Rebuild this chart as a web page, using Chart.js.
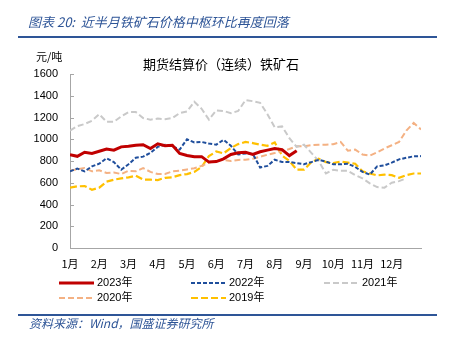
<!DOCTYPE html>
<html>
<head>
<meta charset="utf-8">
<script src="https://cdn.jsdelivr.net/npm/chart.js@4.4.0/dist/chart.umd.min.js"></script>
<style>
  html, body { margin:0; padding:0; background:#fff; }
  #wrap { position:relative; width:455px; height:342px; overflow:hidden; font-family:"Liberation Sans","Noto Sans CJK SC",sans-serif; }
  #c { position:absolute; left:0; top:0; }
  .abs { position:absolute; white-space:pre; line-height:1; }
  .rule { position:absolute; left:18px; width:419px; height:2px; background:#2E5597; }
  .hdr { color:#2E5597; font-style:italic; font-family:"Noto Sans CJK SC",sans-serif; }
  .leg { position:absolute; font-size:11px; color:#000; line-height:1; }
  .leg svg { position:absolute; left:0; top:0; }
  .leg span { position:absolute; white-space:pre; font-family:"Liberation Sans","Noto Sans CJK SC",sans-serif; }
</style>
</head>
<body>
<div id="wrap">
  <canvas id="c" width="455" height="342"></canvas>
  <div class="abs hdr" style="left:28px;top:15px;font-size:13px;">图表 20:  近半月铁矿石价格中枢环比再度回落</div>
  <div class="rule" style="top:36px;"></div>
  <div class="abs" style="left:36px;top:51px;font-size:11px;color:#000;font-family:'Noto Sans CJK SC',sans-serif;">元/吨</div>
  <div class="abs" style="left:143px;top:57px;font-size:13px;color:#000;font-family:'Noto Sans CJK SC',sans-serif;">期货结算价（连续）铁矿石</div>
  <div id="legend"></div>
  <div class="rule" style="top:314px;"></div>
  <div class="abs hdr" style="left:29px;top:317px;font-size:12px;">资料来源：Wind，国盛证券研究所</div>
</div>
<script>
// ---- data (one point every quarter month) ----
const monthLabels = ['1月','2月','3月','4月','5月','6月','7月','8月','9月','10月','11月','12月'];
const seriesNames = ['2023年','2022年','2021年','2020年','2019年'];
const stepMonths = 0.25;

const s2023 = [858,843,880,870,890,910,900,930,935,945,950,915,958,
               940,945,870,850,840,840,790,795,820,860,875,880,
               860,885,900,915,905,850,895];
const s2022 = [705,730,705,750,775,825,790,720,770,830,840,875,930,
               950,935,905,1000,970,975,960,950,995,940,860,870,
               865,740,755,812,791,790,781,770,790,810,795,770,
               770,775,745,700,675,750,760,785,815,830,843,845];
const s2021 = [1080,1120,1140,1170,1230,1160,1160,1210,1250,1250,1195,1180,1190,
               1185,1195,1240,1256,1345,1280,1180,1265,1260,1240,1260,1360,
               1350,1335,1230,1110,1118,1010,930,950,875,800,685,720,
               710,710,670,640,595,560,555,600,615,640];
const s2020 = [710,725,735,705,715,690,695,680,710,705,735,700,680,
               680,705,711,722,733,755,785,800,810,800,810,812,
               820,840,858,873,890,910,935,935,945,950,950,955,
               975,895,905,860,850,880,915,945,975,1080,1150,1090];
const s2019 = [555,567,570,536,555,610,628,640,650,665,630,628,625,
               645,650,670,680,700,745,845,888,870,920,955,975,
               965,950,940,970,850,800,720,720,790,820,790,780,
               795,785,775,705,685,668,674,670,645,670,685,685];

const yTicks = [0,200,400,600,800,1000,1200,1400,1600];

// ---- styles ----
const styles = [
  {color:'#C00000', width:3,   dash:[]},
  {color:'#1F4E9C', width:2,   dash:[4,2]},
  {color:'#C9C9C9', width:2,   dash:[6,3]},
  {color:'#F4B183', width:2,   dash:[6,3]},
  {color:'#FFC000', width:2.2, dash:[7,3]}
];
const allSeries = [s2023, s2022, s2021, s2020, s2019];

const toPoints = arr => arr.map((v,i) => ({x: i*stepMonths, y: v}));

const datasets = allSeries.map((arr, k) => ({
  label: seriesNames[k],
  data: toPoints(arr),
  borderColor: styles[k].color,
  borderWidth: styles[k].width,
  borderDash: styles[k].dash,
  pointRadius: 0,
  tension: 0,
  fill: false
}));

const innerTicks = {
  id: 'innerTicks',
  afterDraw(chart) {
    const y = chart.scales.y, ctx = chart.ctx;
    ctx.save();
    ctx.strokeStyle = '#A6A6A6';
    ctx.lineWidth = 1;
    y.ticks.forEach((t, i) => {
      const py = Math.round(y.getPixelForTick(i)) + 0.5;
      ctx.beginPath();
      ctx.moveTo(chart.chartArea.left, py);
      ctx.lineTo(chart.chartArea.left + 4, py);
      ctx.stroke();
    });
    ctx.restore();
  }
};

new Chart(document.getElementById('c'), {
  type: 'line',
  data: { datasets },
  options: {
    responsive: false,
    animation: false,
    events: [],
    layout: { padding: { top: 74, right: 34, bottom: 64, left: 0 } },
    plugins: { legend: { display: false }, title: { display: false }, tooltip: { enabled: false } },
    scales: {
      x: {
        type: 'linear', min: 0, max: 12,
        afterFit: s => { s.height = 30; },
        afterBuildTicks: s => { s.ticks = monthLabels.map((_, i) => ({value: i})); },
        ticks: {
          autoSkip: false, maxRotation: 0, padding: 9,
          color: '#000',
          font: { size: 11, family: '"Noto Sans CJK SC", "Liberation Sans", sans-serif' },
          callback: v => monthLabels[v] || ''
        },
        grid: { display: false, drawTicks: false },
        border: { display: true, color: '#A6A6A6', width: 1 }
      },
      y: {
        min: 0, max: 1600,
        afterFit: s => { s.width = 70; },
        afterBuildTicks: s => { s.ticks = yTicks.map(v => ({value: v})); },
        ticks: {
          padding: 12, color: '#000',
          font: { size: 11, family: '"Liberation Sans", sans-serif' },
          callback: v => String(v)
        },
        grid: { display: false, drawTicks: false },
        border: { display: true, color: '#A6A6A6', width: 1 }
      }
    }
  },
  plugins: [innerTicks]
});

// ---- legend (HTML) ----
const legendPos = [
  {x:59,  y:283}, {x:191, y:283}, {x:324, y:283},
  {x:59,  y:298}, {x:191, y:298}
];
const legend = document.getElementById('legend');
seriesNames.forEach((name, k) => {
  const p = legendPos[k], st = styles[k];
  const d = document.createElement('div');
  d.className = 'leg';
  d.style.left = p.x + 'px';
  d.style.top = (p.y - 7) + 'px';
  d.style.width = '90px';
  d.style.height = '14px';
  d.innerHTML = `<svg width="36" height="14"><line x1="0" y1="7" x2="35" y2="7" stroke="${st.color}" stroke-width="${st.width}" ${st.dash.length ? `stroke-dasharray="${st.dash.join(' ')}"` : ''}/></svg><span style="left:38px;top:1px;">${name}</span>`;
  legend.appendChild(d);
});
</script>
</body>
</html>
